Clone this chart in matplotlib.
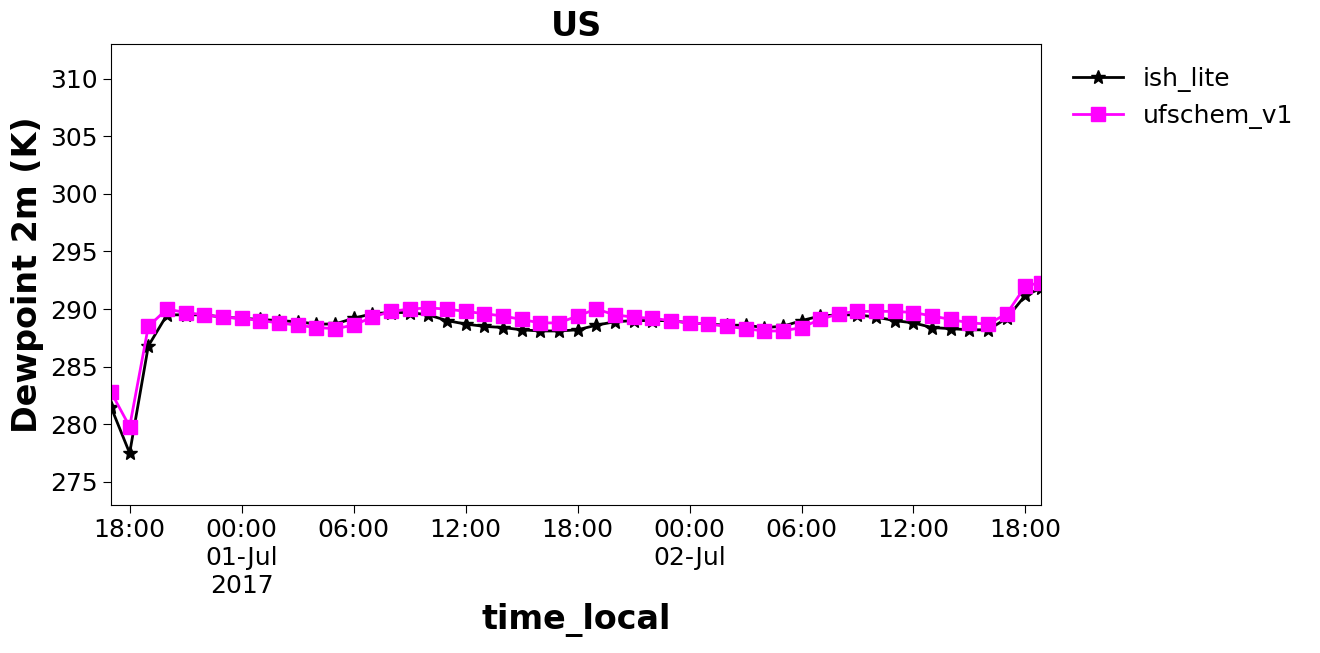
import matplotlib
matplotlib.use("Agg")
import matplotlib.pyplot as plt
import pandas as pd

times = list(pd.date_range("2017-06-30 17:00", "2017-07-02 18:00", freq="h")) + [pd.Timestamp("2017-07-02 18:50")]

ish_lite = [281.5, 277.5, 286.8, 289.5, 289.5, 289.5, 289.3, 289.2, 289.1, 289.0,
            288.9, 288.7, 288.7, 289.2, 289.6, 289.7, 289.7, 289.5, 289.0, 288.7,
            288.5, 288.4, 288.2, 288.1, 288.1, 288.2, 288.6, 288.9, 289.0, 289.0,
            289.0, 288.8, 288.7, 288.6, 288.6, 288.4, 288.5, 289.0, 289.4, 289.5,
            289.5, 289.3, 289.0, 288.8, 288.4, 288.3, 288.2, 288.2, 289.2, 291.2, 291.8]
ufschem_v1 = [282.8, 279.8, 288.5, 290.0, 289.7, 289.5, 289.3, 289.2, 289.0, 288.8,
              288.6, 288.4, 288.3, 288.6, 289.3, 289.8, 290.0, 290.1, 290.0, 289.8,
              289.6, 289.4, 289.1, 288.8, 288.8, 289.4, 290.0, 289.5, 289.3, 289.2,
              289.0, 288.8, 288.7, 288.5, 288.3, 288.1, 288.1, 288.4, 289.1, 289.6,
              289.8, 289.8, 289.8, 289.7, 289.4, 289.1, 288.8, 288.7, 289.6, 292.0, 292.3]

tick_times = pd.date_range("2017-06-30 18:00", "2017-07-02 18:00", freq="6h")
tick_labels = ["18:00", "00:00\n01-Jul\n2017", "06:00", "12:00", "18:00",
               "00:00\n02-Jul", "06:00", "12:00", "18:00"]

fig = plt.figure(figsize=(13.2, 6.53), dpi=100)
ax = fig.add_axes([111 / 1320, 1 - 505 / 653, 930 / 1320, 461 / 653])
ax.plot(times, ish_lite, color="black", marker="*", markersize=10, linewidth=2, label="ish_lite")
ax.plot(times, ufschem_v1, color="magenta", marker="s", markersize=10, linewidth=2, label="ufschem_v1")
ax.set_xlim(times[0], times[-1])
ax.set_ylim(273, 313)
ax.set_xticks(tick_times)
ax.set_xticklabels(tick_labels)
ax.tick_params(labelsize=18, length=6)
ax.set_yticks(range(275, 311, 5))
ax.set_xlabel("time_local", fontsize=24, fontweight="bold")
ax.set_ylabel("Dewpoint 2m (K)", fontsize=24, fontweight="bold")
ax.set_title("US", fontsize=24, fontweight="bold")
ax.legend(loc="upper left", bbox_to_anchor=(1.01, 1.0), frameon=False, fontsize=18)
fig.savefig("out.png", dpi=100)
